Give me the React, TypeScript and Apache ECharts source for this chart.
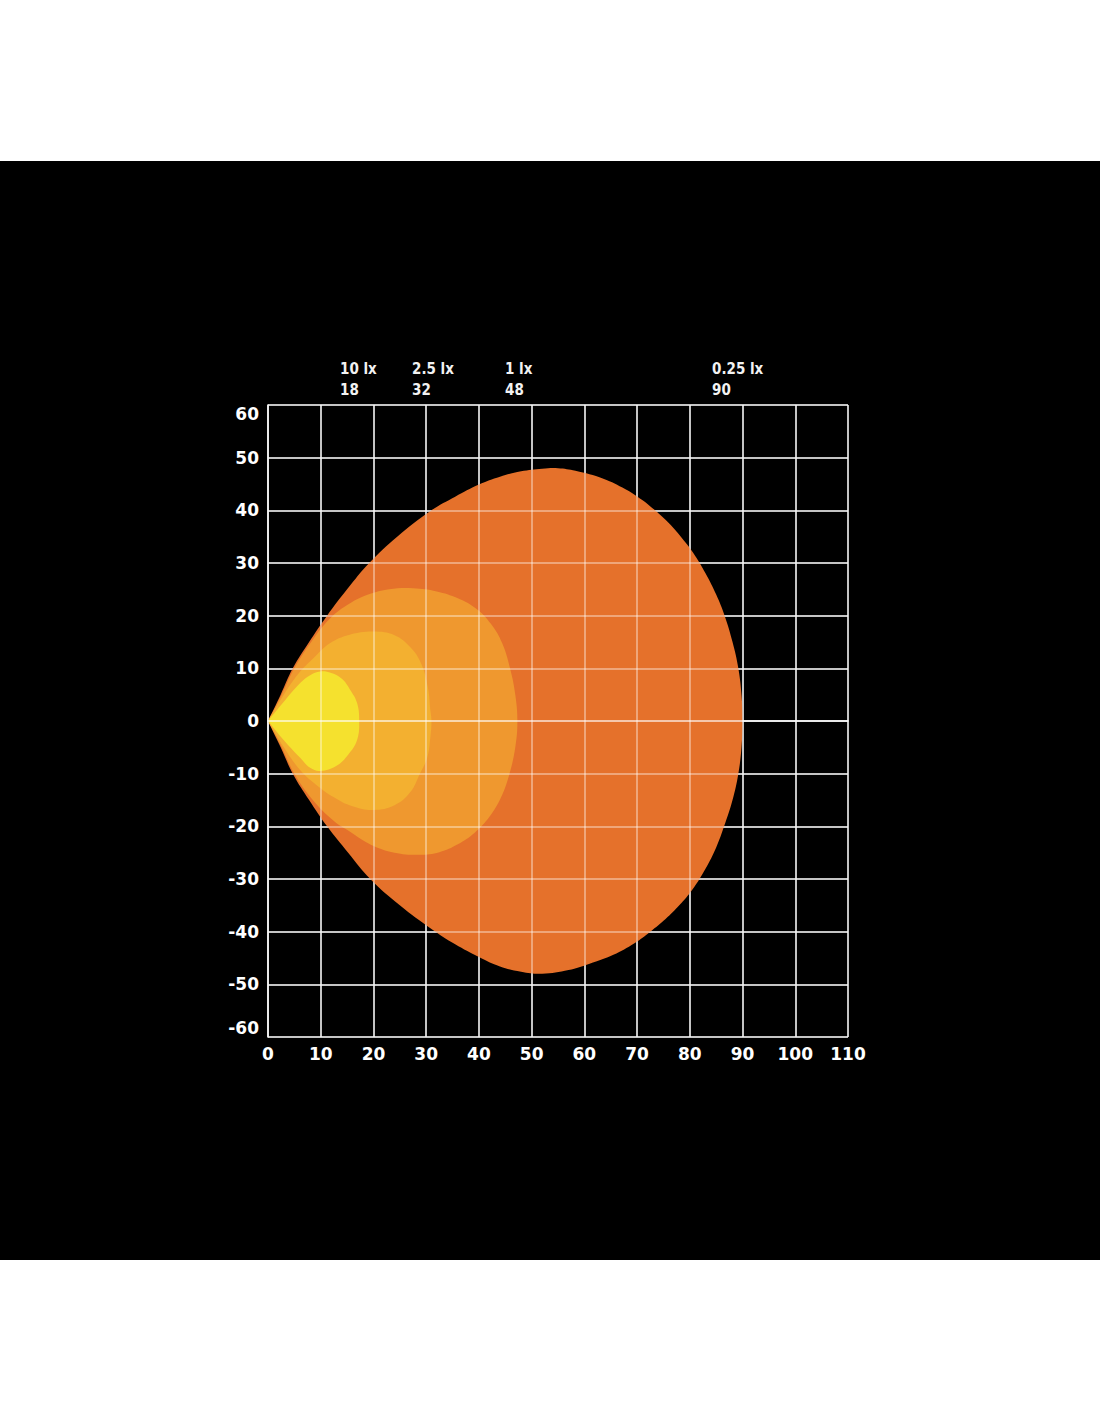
import React, { useEffect, useRef } from "react";
import * as echarts from "echarts";

// ---- data ----
const xTicks = [0, 10, 20, 30, 40, 50, 60, 70, 80, 90, 100, 110];
const yTicks = [-60, -50, -40, -30, -20, -10, 0, 10, 20, 30, 40, 50, 60];

const zoneNames = ["0.25 lx", "1 lx", "2.5 lx", "10 lx"];
const zoneDistances = [90, 48, 32, 18];
const zoneColors = ["#E5712B", "#EF982F", "#F3B030", "#F5E12E"];

const zone025: number[][] = [
  [0, 0], [2.4, 5], [4.7, 10], [7.8, 15], [11.2, 20], [15, 25], [19.2, 30], [24.5, 35],
  [31, 40], [35.5, 42.6], [40, 44.9], [44, 46.4], [48, 47.4], [52, 47.9], [55, 48],
  [58.3, 47.5], [63.6, 46], [67.8, 44], [70.9, 42], [73.4, 40], [76.1, 37.5], [78.3, 35],
  [80.6, 32], [83, 28], [85, 24], [86.6, 20], [88.1, 15], [89.2, 10], [89.8, 5], [90, 0],
  [89.8, -5], [89.2, -10], [88.1, -15], [86.5, -20], [85, -24], [83, -28], [80.5, -32],
  [78, -35], [75.4, -37.6], [72.5, -40], [69.5, -42.2], [65.5, -44.4], [61, -46.1], [57, -47.3],
  [52, -48], [48, -47.6], [44, -46.6], [40, -44.8], [35.5, -42.4], [31, -39.5], [25, -35],
  [19.4, -30], [15.2, -25], [11.2, -20], [7.8, -15], [4.7, -10], [2.4, -5],
];

const zone1: number[][] = [
  [0, 0], [2.6, 5], [5, 10], [8.2, 15], [11.8, 19.5], [15.5, 22.3], [19, 24], [23, 25],
  [27.5, 25.2], [32, 24.6], [36, 23.3], [39.5, 21.3], [42.3, 18.4], [44.4, 14.8], [45.9, 10],
  [46.9, 5], [47.3, 0], [46.9, -5], [45.8, -10], [44.2, -14.5], [42, -18.2], [39.2, -21.2],
  [36, -23.4], [32.5, -24.9], [28.8, -25.4], [24, -25], [19.5, -23.5], [15.5, -21],
  [12.5, -19], [8.5, -15], [5, -10], [2.6, -5],
];

const zone25: number[][] = [
  [0, 0], [3, 5], [5.8, 9], [8.5, 11.8], [11.8, 14.8], [15.5, 16.4], [20, 17], [24, 16.3],
  [27, 14], [29, 11], [30.3, 6.5], [30.8, 2], [31, 0], [30.8, -3], [30.2, -7], [28.8, -10],
  [27, -13.5], [24, -16], [20, -16.9], [16, -16.2], [12.5, -14.5], [9, -12], [6, -9.2], [3, -5],
];

const zone10: number[][] = [
  [0, 0], [2.8, 3.4], [6.1, 7.2], [8, 8.7], [9.9, 9.4], [12, 9.1], [14, 8], [15.6, 5.9],
  [16.9, 3.4], [17.3, 0], [16.9, -3.6], [15.2, -6.4], [13, -8.5], [9.9, -9.5], [8, -8.9],
  [6.1, -7], [2.8, -3.4],
];

const zones = [zone025, zone1, zone25, zone10];

// header label positions (pixels, left edge)
const headerLeft = [712, 505, 412, 340];

export default function App() {
  const ref = useRef<HTMLDivElement>(null);

  useEffect(() => {
    if (!ref.current) return;
    const chart = echarts.init(ref.current, undefined, { renderer: "svg" });
    const gridTop = 405 - 161;
    const grid = { left: 268, top: gridTop, width: 580, height: 632 };
    const labelFont = {
      color: "#ffffff",
      fontSize: 17,
      fontWeight: "bold" as const,
      fontFamily: "DejaVu Sans, sans-serif",
    };

    const series = zones.map((pts, i) => ({
      type: "custom",
      name: zoneNames[i],
      coordinateSystem: "cartesian2d",
      xAxisIndex: 0,
      yAxisIndex: 0,
      z: 2 + i,
      data: pts,
      renderItem: (params: any, api: any) => {
        if (params.dataIndex !== 0) return null;
        const mapped = pts.map((p) => api.coord(p));
        // duplicate the origin so that the cusp stays sharp when smoothing
        const points = [mapped[0], [mapped[0][0], mapped[0][1]], ...mapped.slice(1)];
        return {
          type: "polygon",
          shape: { points, smooth: 0.4 },
          style: { fill: zoneColors[i] },
        };
      },
    }));

    const header = zoneNames.map((n, i) => ({
      type: "text",
      left: headerLeft[i],
      top: 197,
      style: {
        text: n + "\n" + zoneDistances[i],
        fill: "#f2f2f2",
        fontSize: 15,
        fontWeight: "bold",
        fontFamily: "DejaVu Sans Condensed, DejaVu Sans, sans-serif",
        lineHeight: 21,
      },
      z: 20,
    }));

    chart.setOption({
      animation: false,
      backgroundColor: "#000000",
      grid: [grid, grid],
      graphic: header,
      xAxis: [
        {
          type: "value",
          gridIndex: 0,
          min: xTicks[0],
          max: xTicks[xTicks.length - 1],
          interval: 10,
          z: 0,
          axisLine: { show: true, lineStyle: { color: "#d9d9d9", width: 1.5 } },
          axisTick: { show: false },
          splitLine: { show: true, lineStyle: { color: "#d9d9d9", width: 1.5 } },
          axisLabel: { ...labelFont, margin: 8 },
        },
        {
          type: "value",
          gridIndex: 1,
          min: xTicks[0],
          max: xTicks[xTicks.length - 1],
          interval: 10,
          z: 10,
          axisLine: { show: true, lineStyle: { color: "rgba(255,255,255,0.5)", width: 1.5 } },
          axisTick: { show: false },
          splitLine: { show: true, lineStyle: { color: "rgba(255,255,255,0.5)", width: 1.5 } },
          axisLabel: { show: false },
        },
      ],
      yAxis: [
        {
          type: "value",
          gridIndex: 0,
          min: yTicks[0],
          max: yTicks[yTicks.length - 1],
          interval: 10,
          z: 0,
          axisLine: { show: true, lineStyle: { color: "#d9d9d9", width: 1.5 } },
          axisTick: { show: false },
          splitLine: { show: true, lineStyle: { color: "#d9d9d9", width: 1.5 } },
          axisLabel: {
            ...labelFont,
            margin: 9,
            formatter: (v: number) =>
              v === 60 ? "{top|" + v + "}" : v === -60 ? "{bot|" + v + "}" : "{n|" + v + "}",
            rich: {
              n: { ...labelFont },
              top: { ...labelFont, padding: [18, 0, 0, 0] },
              bot: { ...labelFont, padding: [0, 0, 18, 0] },
            },
          },
        },
        {
          type: "value",
          gridIndex: 1,
          min: yTicks[0],
          max: yTicks[yTicks.length - 1],
          interval: 10,
          z: 10,
          axisLine: { show: true, lineStyle: { color: "rgba(255,255,255,0.5)", width: 1.5 } },
          axisTick: { show: false },
          splitLine: { show: true, lineStyle: { color: "rgba(255,255,255,0.5)", width: 1.5 } },
          axisLabel: { show: false },
        },
      ],
      series,
    });
    return () => chart.dispose();
  }, []);

  return (
    <div
      style={{
        position: "absolute",
        left: 0,
        top: 0,
        width: 1100,
        height: 1422,
        background: "#ffffff",
        overflow: "hidden",
      }}
    >
      <div
        ref={ref}
        style={{ position: "absolute", left: 0, top: 161, width: 1100, height: 1099 }}
      />
    </div>
  );
}
